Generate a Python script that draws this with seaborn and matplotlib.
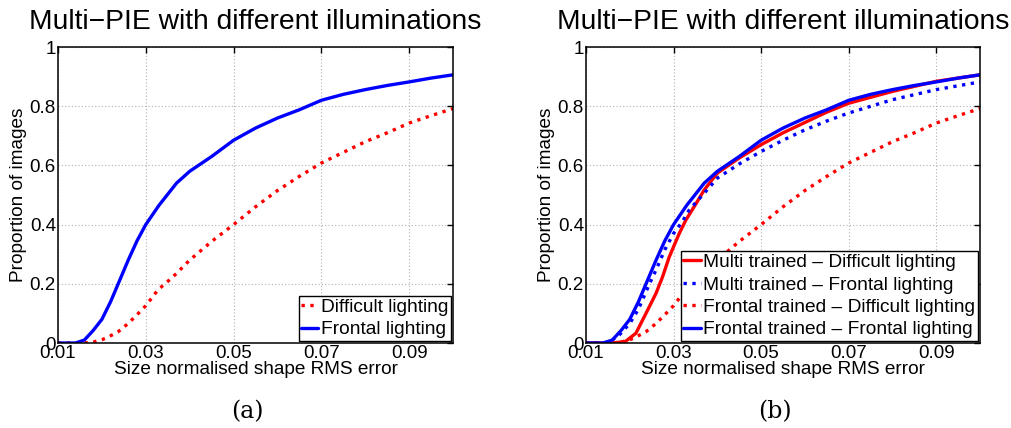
import matplotlib
matplotlib.use("Agg")
import matplotlib.pyplot as plt
import seaborn as sns
import pandas as pd

# ---- data ----
x_ft = [0.010, 0.014, 0.016, 0.018, 0.020, 0.022, 0.024, 0.026, 0.028, 0.030, 0.033,
        0.037, 0.040, 0.045, 0.050, 0.055, 0.060, 0.065, 0.070, 0.075,
        0.080, 0.085, 0.090, 0.095, 0.100]
frontal_frontal = [0.0, 0.0, 0.01, 0.042, 0.08, 0.14, 0.21, 0.28, 0.345, 0.40, 0.465,
                   0.54, 0.58, 0.63, 0.685, 0.726, 0.76, 0.788, 0.82, 0.84,
                   0.856, 0.87, 0.882, 0.895, 0.906]

x_fd = [0.010, 0.016, 0.018, 0.020, 0.0214, 0.0237, 0.026, 0.0283, 0.030, 0.0328,
        0.035, 0.037, 0.040, 0.045, 0.050, 0.055, 0.060, 0.065, 0.070, 0.075, 0.080,
        0.085, 0.090, 0.095, 0.100]
frontal_difficult = [0.0, 0.0, 0.003, 0.011, 0.02, 0.038, 0.066, 0.10, 0.126, 0.18,
                     0.208, 0.235, 0.28, 0.343, 0.40, 0.46, 0.515, 0.563, 0.608, 0.644,
                     0.68, 0.71, 0.743, 0.768, 0.792]

x_md = [0.010, 0.016, 0.019, 0.0214, 0.0237, 0.026, 0.0275, 0.029, 0.030, 0.0313,
        0.0328, 0.0351, 0.037, 0.040, 0.045, 0.050, 0.055, 0.060, 0.065, 0.070, 0.080,
        0.090, 0.100]
multi_difficult = [0.0, 0.0, 0.005, 0.033, 0.10, 0.168, 0.224, 0.29, 0.325, 0.37,
                   0.415, 0.47, 0.517, 0.574, 0.625, 0.67, 0.71, 0.745, 0.78, 0.81, 0.85,
                   0.884, 0.906]

x_mf = [0.010, 0.014, 0.016, 0.0176, 0.020, 0.022, 0.0245, 0.026, 0.028, 0.030, 0.032,
        0.0336, 0.037, 0.040, 0.045, 0.050, 0.055, 0.060, 0.065, 0.070, 0.080,
        0.090, 0.100]
multi_frontal = [0.0, 0.0, 0.01, 0.027, 0.066, 0.115, 0.20, 0.247, 0.315, 0.37, 0.41,
                 0.45, 0.506, 0.557, 0.605, 0.647, 0.685, 0.72, 0.75, 0.777, 0.822,
                 0.856, 0.882]

xticks = [0.01, 0.03, 0.05, 0.07, 0.09]
xtick_labels = ["0.01", "0.03", "0.05", "0.07", "0.09"]
yticks = [0, 0.2, 0.4, 0.6, 0.8, 1.0]
ytick_labels = ["0", "0.2", "0.4", "0.6", "0.8", "1"]

title = "Multi\u2212PIE with different illuminations"
xlabel = "Size normalised shape RMS error"
ylabel = "Proportion of images"

sns.set_style("white")
plt.rcParams["font.family"] = ["Liberation Sans", "DejaVu Sans"]
plt.rcParams["text.color"] = "black"
plt.rcParams["axes.labelcolor"] = "black"
plt.rcParams["xtick.color"] = "black"
plt.rcParams["ytick.color"] = "black"

W, H = 1011, 428
fig = plt.figure(figsize=(W / 100, H / 100), dpi=100)


def ax_rect(x0, x1, y0, y1):
    return [x0 / W, 1 - y1 / H, (x1 - x0) / W, (y1 - y0) / H]


def style_axes(ax):
    ax.set_xlim(0.01, 0.1)
    ax.set_ylim(0, 1)
    ax.set_xticks(xticks)
    ax.set_xticklabels(xtick_labels)
    ax.set_yticks(yticks)
    ax.set_yticklabels(ytick_labels)
    ax.tick_params(direction="in", length=4, width=1, top=True, right=True,
                   labelsize=13.5, pad=1.5, colors="black", labelcolor="black")
    ax.grid(True, linestyle=(0, (1, 2)), color="#b0b0b0", linewidth=0.8)
    for s in ax.spines.values():
        s.set_visible(True)
        s.set_color("black")
        s.set_linewidth(1.1)
    ax.set_xlabel(xlabel, fontsize=13.7, labelpad=-1, color="black")
    ax.set_ylabel(ylabel, fontsize=13.7, labelpad=2, color="black")
    ax.set_title(title, fontsize=20.3, pad=13, color="black")


def draw(ax, xs, ys, color, ls, label):
    df = pd.DataFrame({"x": xs, "y": ys})
    sns.lineplot(data=df, x="x", y="y", ax=ax, color=color, linestyle=ls,
                 linewidth=2.4, label=label, sort=True, errorbar=None)


# ---- panel (a) ----
ax1 = fig.add_axes(ax_rect(58, 453, 47, 343))
draw(ax1, x_fd, frontal_difficult, "#ff0000", ":", "Difficult lighting")
draw(ax1, x_ft, frontal_frontal, "#0000ff", "-", "Frontal lighting")
style_axes(ax1)

# ---- panel (b) ----
ax2 = fig.add_axes(ax_rect(586, 980, 47, 343))
draw(ax2, x_md, multi_difficult, "#ff0000", "-", "Multi trained \u2013 Difficult lighting")
draw(ax2, x_mf, multi_frontal, "#0000ff", ":", "Multi trained \u2013 Frontal lighting")
draw(ax2, x_fd, frontal_difficult, "#ff0000", ":", "Frontal trained \u2013 Difficult lighting")
draw(ax2, x_ft, frontal_frontal, "#0000ff", "-", "Frontal trained \u2013 Frontal lighting")
style_axes(ax2)

for ax in (ax1, ax2):
    leg = ax.legend(loc="lower right", fontsize=13.8, frameon=True, fancybox=False,
                    edgecolor="black", framealpha=1, borderpad=0.12, labelspacing=0.26,
                    handlelength=0.9, handletextpad=0.15, borderaxespad=0.12)
    leg.get_frame().set_linewidth(1.0)
    for t in leg.get_texts():
        t.set_color("black")

fig.text(247 / W, 1 - 412 / H, "(a)", ha="center", va="center", fontsize=17,
         family=["DejaVu Serif"], color="black")
fig.text(775 / W, 1 - 412 / H, "(b)", ha="center", va="center", fontsize=17,
         family=["DejaVu Serif"], color="black")

fig.savefig("out.png", dpi=100)
